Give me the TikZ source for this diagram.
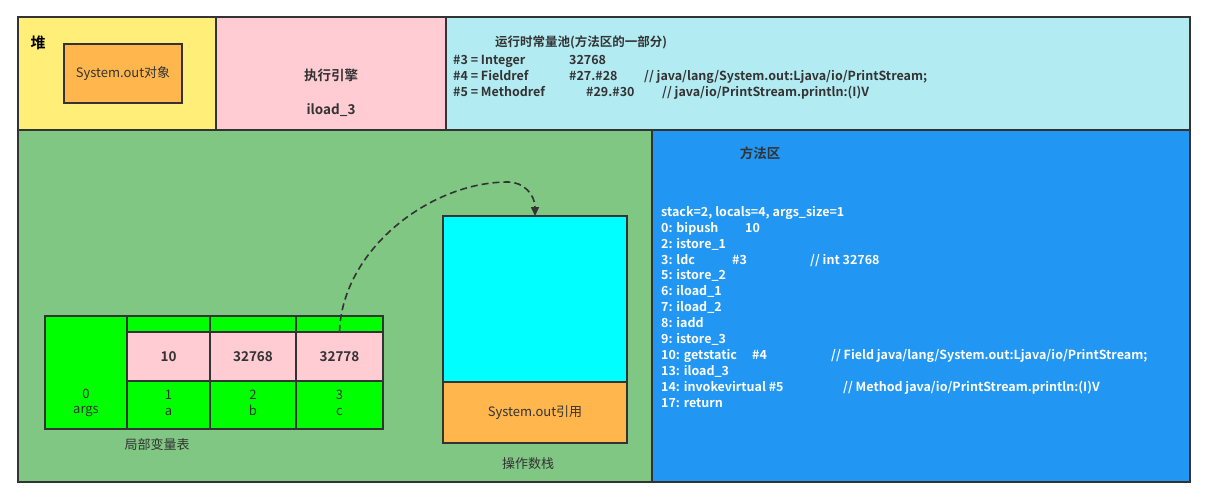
\documentclass[tikz,border=0pt]{standalone}
\usepackage{fontspec}
\setmainfont{Noto Sans CJK SC}[BoldFont=* Bold]
\usetikzlibrary{fit,arrows.meta}
\definecolor{bordc}{HTML}{333333}
\definecolor{heapc}{HTML}{FFEE77}
\definecolor{pinkc}{HTML}{FFCCD3}
\definecolor{poolc}{HTML}{B2EBF2}
\definecolor{framec}{HTML}{81C784}
\definecolor{bluec}{HTML}{2196F3}
\definecolor{orangec}{HTML}{FFB74D}
\definecolor{limec}{HTML}{00FF00}
\definecolor{cyanc}{HTML}{00FFFF}
\definecolor{txtc}{HTML}{333333}
\tikzset{
  region/.style={draw=bordc, line width=2pt, inner sep=0pt, outer sep=0pt},
  cell/.style={draw=bordc, line width=1.6pt, inner sep=0pt, outer sep=0pt},
  lbl/.style={text=txtc, inner sep=0pt, font=\fontsize{13}{15}\selectfont},
  blbl/.style={lbl, font=\fontsize{13.5}{15}\selectfont\bfseries},
  code/.style={text=white, inner sep=0pt, align=left, anchor=north west,
    font=\fontsize{12.5}{15.9}\selectfont\bfseries},
  pool/.style={text=txtc, inner sep=0pt, align=left, anchor=north west,
    font=\fontsize{12.5}{16}\selectfont\bfseries},
  flow/.style={draw=bordc, line width=1.6pt, dash pattern=on 7pt off 4pt,
    -{Triangle[length=9pt,width=8pt]}},
}
\begin{document}
\begin{tikzpicture}[x=1pt,y=-1pt]
\useasboundingbox (0,0) rectangle (1214,499);
% top row
\node[region, fill=heapc, fit={(18,17) (216,130)}] (heap) {};
\node[region, fill=pinkc, fit={(216,17) (446,130)}] (engine) {};
\node[region, fill=poolc, fit={(446,17) (1190,130)}] (poolbox) {};
% bottom row
\node[region, fill=framec, fit={(18,130) (652,482)}] (frame) {};
\node[region, fill=bluec, fit={(652,130) (1190,482)}] (method) {};
% heap content
\node[lbl, font=\fontsize{15}{16}\selectfont\bfseries, text=black] (heapt) at (38,43) {堆};
\node[cell, fill=orangec, fit={(64,44) (182,103)}] (sysobj) {};
\node[lbl] (sysobjt) at (sysobj.center) {System.out对象};
% engine
\node[blbl] (enginet) at (331,75) {执行引擎};
\node[blbl] (iloadt) at (331,110) {iload\_3};
% pool
\node[blbl, anchor=west, font=\fontsize{12.5}{15}\selectfont\bfseries] (poolt) at (495,42) {运行时常量池(方法区的一部分)};
\node[pool] (pooll) at (453,55) {%
\makebox[116pt][l]{\#3 = Integer}32768\\
\makebox[116pt][l]{\#4 = Fieldref}\makebox[75pt][l]{\#27.\#28}// java/lang/System.out:Ljava/io/PrintStream;\\
\makebox[133pt][l]{\#5 = Methodref}\makebox[76pt][l]{\#29.\#30}// java/io/PrintStream.println:(I)V};
% method area
\node[blbl] (methodt) at (760,153) {方法区};
\node[code] (codel) at (661,206) {%
stack=2, locals=4, args\_size=1\\
\makebox[84pt][l]{0: bipush}10\\
2: istore\_1\\
\makebox[71pt][l]{3: ldc}\makebox[78pt][l]{\#3}// int 32768\\
5: istore\_2\\
6: iload\_1\\
7: iload\_2\\
8: iadd\\
9: istore\_3\\
\makebox[91pt][l]{10: getstatic}\makebox[79pt][l]{\#4}// Field java/lang/System.out:Ljava/io/PrintStream;\\
13: iload\_3\\
\makebox[182pt][l]{14: invokevirtual \#5}// Method java/io/PrintStream.println:(I)V\\
17: return};
% local variable table
\node[cell, fill=limec, fit={(45,316) (127,429)}] (c0) {};
\node[cell, fill=limec, fit={(127,316) (210,332)}] (c1t) {};
\node[cell, fill=pinkc, fit={(127,332) (210,381)}] (c1v) {};
\node[cell, fill=limec, fit={(127,381) (210,429)}] (c1b) {};
\node[cell, fill=limec, fit={(210,316) (296,332)}] (c2t) {};
\node[cell, fill=pinkc, fit={(210,332) (296,381)}] (c2v) {};
\node[cell, fill=limec, fit={(210,381) (296,429)}] (c2b) {};
\node[cell, fill=limec, fit={(296,316) (383,332)}] (c3t) {};
\node[cell, fill=pinkc, fit={(296,332) (383,381)}] (c3v) {};
\node[cell, fill=limec, fit={(296,381) (383,429)}] (c3b) {};
\node[lbl, align=center, font=\fontsize{13}{15.5}\selectfont] (c0t) at (86,403) {0\\args};
\node[lbl, align=center, font=\fontsize{13}{15.5}\selectfont] (c1l) at (168.5,403) {1\\a};
\node[lbl, align=center, font=\fontsize{13}{15.5}\selectfont] (c2l) at (253,403) {2\\b};
\node[lbl, align=center, font=\fontsize{13}{15.5}\selectfont] (c3l) at (339.5,403) {3\\c};
\node[blbl] (v1) at (c1v.center) {10};
\node[blbl] (v2) at (c2v.center) {32768};
\node[blbl] (v3) at (c3v.center) {32778};
\node[lbl] (lvt) at (157,445) {局部变量表};
% operand stack
\node[cell, fill=cyanc, fit={(443,216) (627,382)}] (stk) {};
\node[cell, fill=orangec, fit={(443,382) (627,443)}] (stkb) {};
\node[lbl] (stkbt) at (stkb.center) {System.out引用};
\node[lbl] (stkt) at (528,464) {操作数栈};
% arrow
\coordinate (peak) at (508,182);
\draw[flow] (c3v.north) .. controls (342,250) and (430,182) .. (peak)
  .. controls (524,182) and (535,195) .. (stk.north);
\end{tikzpicture}
\end{document}
